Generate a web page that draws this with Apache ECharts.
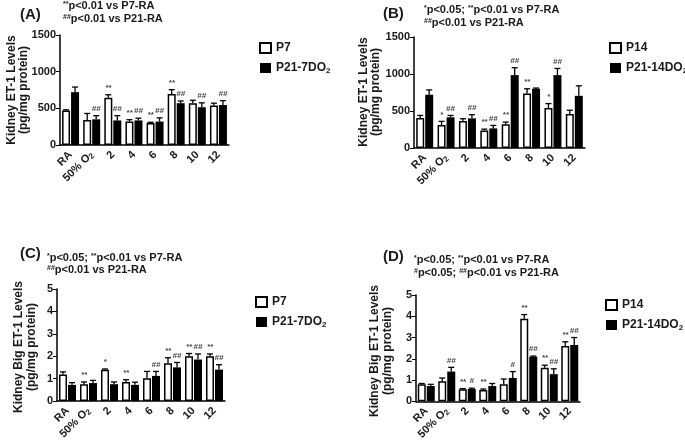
<!DOCTYPE html>
<html><head><meta charset="utf-8">
<script src="https://cdn.jsdelivr.net/npm/echarts@6/dist/echarts.min.js"></script>
<style>html,body{margin:0;padding:0;background:#fff}#c{width:685px;height:443px}</style>
</head><body><div id="c"></div>
<script>
// ---- Data ----
const categories = ['RA', '50% O2', '2', '4', '6', '8', '10', '12'];

// Panel A: Kidney ET-1, P7 vs P21-7DO2
const A_p7 = [470, 340, 645, 320, 300, 695, 570, 540];
const A_p7_err = [10, 90, 40, 25, 10, 60, 40, 30];
const A_p21 = [720, 350, 335, 335, 320, 570, 515, 545];
const A_p21_err = [70, 50, 65, 30, 50, 30, 60, 60];
const A_p7_sig = ['', '', '**', '**', '**', '**', '', ''];
const A_p21_sig = ['', '##', '##', '##', '##', '##', '##', '##'];

// Panel B: Kidney ET-1, P14 vs P21-14DO2
const B_p14 = [405, 310, 365, 235, 320, 735, 540, 460];
const B_p14_err = [35, 50, 30, 20, 30, 65, 60, 50];
const B_p21 = [720, 415, 400, 265, 985, 800, 985, 705];
const B_p21_err = [65, 25, 50, 40, 100, 10, 90, 135];
const B_p14_sig = ['', '*', '', '**', '**', '**', '*', ''];
const B_p21_sig = ['', '##', '##', '##', '##', '', '##', ''];

// Panel C: Kidney Big ET-1, P7 vs P21-7DO2
const C_p7 = [1.18, 0.75, 1.4, 0.85, 1.02, 1.68, 2.0, 2.0];
const C_p7_err = [0.12, 0.1, 0.03, 0.1, 0.3, 0.25, 0.12, 0.1];
const C_p21 = [0.72, 0.8, 0.75, 0.72, 1.12, 1.5, 1.85, 1.4];
const C_p21_err = [0.1, 0.12, 0.1, 0.12, 0.2, 0.22, 0.25, 0.22];
const C_p7_sig = ['', '**', '*', '**', '', '**', '**', '**'];
const C_p21_sig = ['', '', '', '', '##', '##', '##', '##'];

// Panel D: Kidney Big ET-1, P14 vs P21-14DO2
const D_p14 = [0.8, 0.95, 0.57, 0.53, 0.8, 3.88, 1.58, 2.6];
const D_p14_err = [0.04, 0.15, 0.03, 0.05, 0.25, 0.2, 0.12, 0.2];
const D_p21 = [0.72, 1.4, 0.58, 0.72, 1.1, 2.1, 1.28, 2.65];
const D_p21_err = [0.08, 0.2, 0.04, 0.12, 0.3, 0.03, 0.25, 0.35];
const D_p14_sig = ['', '', '**', '**', '', '**', '**', '**'];
const D_p21_sig = ['', '##', '#', '', '#', '##', '##', '##'];

const yTicksET1 = [0, 500, 1000, 1500];
const yTicksBig = [0, 1, 2, 3, 4, 5];

// ---- Chart ----
const FONT = '"Liberation Sans", Arial, sans-serif';
const INK = '#1a1a1a';
const BW = 8;

const grids = [
  {left: 60, top: 35, width: 169, height: 110},
  {left: 414, top: 37, width: 171, height: 111},
  {left: 57, top: 289, width: 168, height: 112},
  {left: 416, top: 295, width: 164, height: 109}
];

function xAxis(i) {
  return {
    type: 'category', gridIndex: i, data: categories,
    axisLine: {lineStyle: {color: '#000', width: 1.5}},
    axisTick: {alignWithLabel: true, length: 3, lineStyle: {color: '#000'}},
    axisLabel: {
      rotate: 45, interval: 0, margin: 8, color: INK,
      fontFamily: FONT, fontWeight: 'bold', fontSize: 11,
      formatter: v => v === '50% O2' ? '50% O{sub|2}' : v,
      rich: {sub: {fontSize: 8, fontWeight: 'bold', fontFamily: FONT, color: INK, verticalAlign: 'bottom', padding: [5, 0, 0, 0]}}
    }
  };
}
function yAxis(i, ticks) {
  return {
    type: 'value', gridIndex: i, min: ticks[0], max: ticks[ticks.length - 1],
    interval: ticks[1] - ticks[0],
    axisLine: {show: true, lineStyle: {color: '#000', width: 1.5}},
    axisTick: {show: true, length: 4, lineStyle: {color: '#000'}},
    splitLine: {show: false},
    axisLabel: {color: INK, fontFamily: FONT, fontWeight: 'bold', fontSize: 11, margin: 4,
      formatter: v => String(v)}
  };
}

function barSeries(name, i, vals, dark) {
  return {
    type: 'bar', name: name, xAxisIndex: i, yAxisIndex: i, data: vals,
    barWidth: BW, barGap: '12.5%',
    itemStyle: dark ? {color: '#000'} : {color: '#fff', borderColor: '#000', borderWidth: 1.5},
    silent: true
  };
}

function errSeries(i, vals, errs, sig, offset) {
  return {
    type: 'custom', xAxisIndex: i, yAxisIndex: i, z: 5, silent: true,
    data: vals.map((v, k) => [k, v, v + errs[k]]),
    encode: {x: 0, y: [1, 2]},
    renderItem: function (params, api) {
      const k = api.value(0);
      const base = api.coord([k, api.value(1)]);
      const top = api.coord([k, api.value(2)]);
      const x = base[0] + offset;
      const children = [
        {type: 'line', shape: {x1: x, y1: base[1], x2: x, y2: top[1]}, style: {stroke: '#000', lineWidth: 1.3}},
        {type: 'line', shape: {x1: x - 3, y1: top[1], x2: x + 3, y2: top[1]}, style: {stroke: '#000', lineWidth: 1.3}}
      ];
      const s = sig[params.dataIndex];
      if (s) {
        children.push({type: 'text', x: x, y: top[1] - 3,
          style: {text: s, fill: '#444', font: 'italic bold 8px ' + FONT, textAlign: 'center', textVerticalAlign: 'bottom'}});
      }
      return {type: 'group', children: children};
    }
  };
}

function legend(left, top, names) {
  return {
    left: left, top: top, orient: 'vertical', itemGap: 8, itemWidth: 11, itemHeight: 10,
    icon: 'rect', data: names, selectedMode: false,
    textStyle: {color: INK, fontFamily: FONT, fontWeight: 'bold', fontSize: 12,
      rich: {sub: {fontSize: 8, fontWeight: 'bold', fontFamily: FONT, color: INK, verticalAlign: 'bottom', padding: [6, 0, 0, 0]}}},
    formatter: n => n.replace(/DO2$/, 'DO{sub|2}')
  };
}

function txt(x, y, text, size, extra) {
  return Object.assign({type: 'text', x: x, y: y, silent: true,
    style: {text: text, fill: INK, font: 'bold ' + size + 'px ' + FONT, textAlign: 'left', textVerticalAlign: 'middle'}}, extra || {});
}
function subTxt(x, y, text) {
  return {type: 'text', x: x, y: y, silent: true,
    style: {text: text, fill: INK, font: 'bold 11px ' + FONT, textVerticalAlign: 'middle',
      rich: {s: {fontSize: 7, fontWeight: 'bold', fontFamily: FONT, fill: INK, verticalAlign: 'top', padding: [0, 0, 4, 0]},
             n: {fontSize: 11, fontWeight: 'bold', fontFamily: FONT, fill: INK}}}};
}
function yName(x, y, text) {
  return {type: 'text', x: x, y: y, rotation: Math.PI / 2, silent: true,
    style: {text: text, fill: INK, font: 'bold 12px ' + FONT, textAlign: 'center', textVerticalAlign: 'middle'}};
}

const chart = echarts.init(document.getElementById('c'), null, {renderer: 'canvas'});
chart.setOption({
  animation: false,
  backgroundColor: '#fff',
  grid: grids,
  xAxis: [0, 1, 2, 3].map(xAxis),
  yAxis: [yAxis(0, yTicksET1), yAxis(1, yTicksET1), yAxis(2, yTicksBig), yAxis(3, yTicksBig)],
  legend: [
    legend(254, 37, ['P7', 'P21-7DO2']),
    legend(604, 37, ['P14', 'P21-14DO2']),
    legend(250, 291, ['P7', 'P21-7DO2']),
    legend(600, 294, ['P14', 'P21-14DO2'])
  ],
  series: [
    barSeries('P7', 0, A_p7, false), barSeries('P21-7DO2', 0, A_p21, true),
    errSeries(0, A_p7, A_p7_err, A_p7_sig, -4.5), errSeries(0, A_p21, A_p21_err, A_p21_sig, 4.5),
    barSeries('P14', 1, B_p14, false), barSeries('P21-14DO2', 1, B_p21, true),
    errSeries(1, B_p14, B_p14_err, B_p14_sig, -4.5), errSeries(1, B_p21, B_p21_err, B_p21_sig, 4.5),
    barSeries('P7', 2, C_p7, false), barSeries('P21-7DO2', 2, C_p21, true),
    errSeries(2, C_p7, C_p7_err, C_p7_sig, -4.5), errSeries(2, C_p21, C_p21_err, C_p21_sig, 4.5),
    barSeries('P14', 3, D_p14, false), barSeries('P21-14DO2', 3, D_p21, true),
    errSeries(3, D_p14, D_p14_err, D_p14_sig, -4.5), errSeries(3, D_p21, D_p21_err, D_p21_sig, 4.5)
  ],
  graphic: [
    txt(20, 15, '(A)', 15),
    subTxt(63, 6, '{s|**}{n|p<0.01 vs P7-RA}'),
    subTxt(63, 19, '{s|##}{n|p<0.01 vs P21-RA}'),
    yName(12, 90, 'Kidney ET-1 Levels'),
    yName(24, 90, '(pg/mg protein)'),

    txt(383, 14, '(B)', 15),
    subTxt(424, 10, '{s|*}{n|p<0.05; }{s|**}{n|p<0.01 vs P7-RA}'),
    subTxt(424, 23, '{s|##}{n|p<0.01 vs P21-RA}'),
    yName(364, 92, 'Kidney ET-1 Levels'),
    yName(376, 92, '(pg/mg protein)'),

    txt(20, 254, '(C)', 15),
    subTxt(47, 258, '{s|*}{n|p<0.05; }{s|**}{n|p<0.01 vs P7-RA}'),
    subTxt(47, 270, '{s|##}{n|p<0.01 vs P21-RA}'),
    yName(19, 347, 'Kidney Big ET-1 Levels'),
    yName(32, 347, '(pg/mg protein)'),

    txt(383, 257, '(D)', 15),
    subTxt(414, 260, '{s|*}{n|p<0.05; }{s|**}{n|p<0.01 vs P7-RA}'),
    subTxt(414, 273, '{s|#}{n|p<0.05; }{s|##}{n|p<0.01 vs P21-RA}'),
    yName(375, 351, 'Kidney Big ET-1 Levels'),
    yName(388, 351, '(pg/mg protein)')
  ]
});
</script>
</body></html>
